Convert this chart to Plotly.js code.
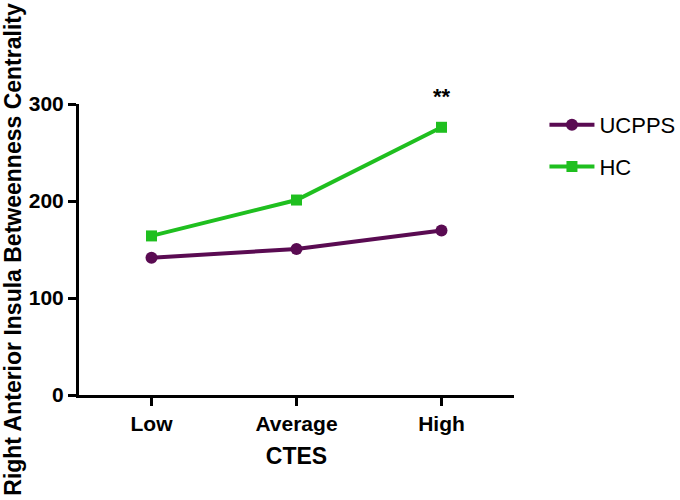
<!DOCTYPE html>
<html>
<head>
<meta charset="utf-8">
<script src="https://cdn.plot.ly/plotly-3.0.1.min.js"></script>
<style>html,body{margin:0;padding:0;background:#fff;}#chart{width:680px;height:500px;}</style>
</head>
<body>
<div id="chart"></div>
<script>
const categories = ["Low", "Average", "High"];
const ucppsValues = [141.5, 150.5, 169.5];
const hcValues = [164, 201, 276];
const yTicks = [0, 100, 200, 300];
const sigLabel = "**";

const purple = "#5a0b52";
const green = "#1fbf1f";
const fam = "Liberation Sans, Arial, sans-serif";

const traces = [
  {
    x: categories, y: ucppsValues, name: "UCPPS", type: "scatter", mode: "lines+markers",
    legendgroup: "a",
    line: {color: purple, width: 4},
    marker: {symbol: "circle", size: 12, color: purple}
  },
  {
    x: categories, y: hcValues, name: "HC", type: "scatter", mode: "lines+markers",
    legendgroup: "b",
    line: {color: green, width: 4},
    marker: {symbol: "square", size: 11, color: green}
  }
];

const layout = {
  width: 680, height: 500,
  margin: {l: 79, r: 166, t: 104, b: 105, autoexpand: false},
  paper_bgcolor: "#fff", plot_bgcolor: "#fff",
  font: {family: fam, color: "#000"},
  showlegend: true,
  legend: {
    x: 1.07, y: 1.0, xanchor: "left", yanchor: "top",
    font: {size: 22, family: fam},
    tracegroupgap: 10, itemwidth: 45, bgcolor: "rgba(0,0,0,0)"
  },
  xaxis: {
    type: "category", range: [-0.5, 2.5], automargin: false,
    showline: true, linecolor: "#000", linewidth: 3,
    ticks: "outside", ticklen: 8, tickwidth: 3, tickcolor: "#000",
    showgrid: false, zeroline: false,
    tickfont: {size: 21, family: fam, weight: "bold"},
    title: {text: "<b>CTES</b>", font: {size: 23}, standoff: 14}
  },
  yaxis: {
    range: [0, 300], tickvals: yTicks, automargin: false,
    showline: true, linecolor: "#000", linewidth: 3,
    ticks: "outside", ticklen: 8, tickwidth: 3, tickcolor: "#000",
    showgrid: false, zeroline: false,
    tickfont: {size: 21, family: fam, weight: "bold"},
    title: {text: "<b>Right Anterior Insula Betweenness Centrality</b>", font: {size: 23}, standoff: 8}
  },
  annotations: [
    {x: 2, y: 1.026, xref: "x", yref: "paper", text: "<b>" + sigLabel + "</b>", showarrow: false,
     font: {size: 22}, yanchor: "middle"}
  ]
};

Plotly.newPlot("chart", traces, layout, {displayModeBar: false, staticPlot: true});
</script>
</body>
</html>
